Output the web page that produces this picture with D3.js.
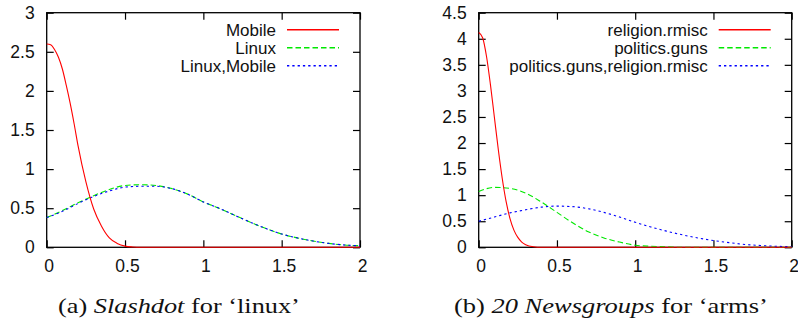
<!DOCTYPE html>
<html>
<head>
<meta charset="utf-8">
<script src="https://cdn.jsdelivr.net/npm/d3@7"></script>
<style>
  body { margin: 0; background: #fff; }
  svg { display: block; }
</style>
</head>
<body>
<div id="chart"></div>
<script>

// tick values
var xTicks = [0, 0.5, 1, 1.5, 2];
var yTicksA = [0, 0.5, 1, 1.5, 2, 2.5, 3];
var yTicksB = [0, 0.5, 1, 1.5, 2, 2.5, 3, 3.5, 4, 4.5];

// legend names
var seriesA = ["Mobile", "Linux", "Linux,Mobile"];
var seriesB = ["religion.rmisc", "politics.guns", "politics.guns,religion.rmisc"];

// (a) Slashdot
var mobileX = [0, 0.025, 0.05, 0.075, 0.1, 0.125, 0.15, 0.175, 0.2, 0.25, 0.3, 0.35, 0.4, 0.45, 0.5, 0.55, 0.6, 0.8, 1, 1.5, 2];
var mobileY = [2.60, 2.59, 2.53, 2.43, 2.28, 2.07, 1.84, 1.58, 1.30, 0.84, 0.49, 0.27, 0.12, 0.05, 0.015, 0.004, 0, 0, 0, 0, 0];
var linuxX = [0, 0.1, 0.2, 0.3, 0.4, 0.5, 0.6, 0.7, 0.8, 0.9, 1, 1.1, 1.2, 1.3, 1.4, 1.5, 1.6, 1.7, 1.8, 1.9, 2];
var linuxY = [0.38, 0.47, 0.57, 0.66, 0.74, 0.79, 0.80, 0.79, 0.75, 0.68, 0.58, 0.50, 0.41, 0.32, 0.24, 0.17, 0.12, 0.08, 0.05, 0.03, 0.02];
var linuxMobileY = [0.38, 0.46, 0.56, 0.65, 0.72, 0.77, 0.78, 0.78, 0.75, 0.68, 0.58, 0.50, 0.41, 0.32, 0.24, 0.17, 0.12, 0.08, 0.05, 0.03, 0.02];

// (b) 20 Newsgroups
var rmiscX = [0, 0.025, 0.05, 0.075, 0.1, 0.125, 0.15, 0.175, 0.2, 0.225, 0.25, 0.275, 0.3, 0.35, 0.4, 0.5, 1, 1.5, 2];
var rmiscY = [4.12, 4.02, 3.66, 3.12, 2.50, 1.88, 1.33, 0.88, 0.55, 0.33, 0.19, 0.10, 0.05, 0.01, 0, 0, 0, 0, 0];
var gunsX = [0, 0.1, 0.2, 0.3, 0.4, 0.5, 0.6, 0.7, 0.8, 0.9, 1, 1.1, 1.2, 1.3, 1.5, 2];
var gunsY = [1.07, 1.15, 1.13, 1.04, 0.87, 0.67, 0.47, 0.30, 0.18, 0.10, 0.04, 0.02, 0.01, 0, 0, 0];
var gunsRmiscX = [0, 0.1, 0.2, 0.3, 0.4, 0.5, 0.6, 0.7, 0.8, 0.9, 1, 1.1, 1.2, 1.3, 1.4, 1.5, 1.6, 1.7, 1.8, 1.9, 2];
var gunsRmiscY = [0.50, 0.58, 0.66, 0.72, 0.77, 0.79, 0.78, 0.74, 0.67, 0.58, 0.48, 0.39, 0.31, 0.24, 0.18, 0.13, 0.09, 0.055, 0.035, 0.02, 0.01];

// captions: [plain, italic, plain]
var captionA = ["(a) ", "Slashdot", " for \u2018linux\u2019"];
var captionB = ["(b) ", "20 Newsgroups", " for \u2018arms\u2019"];

var colors = ["#ff0000", "#00e800", "#0000ff"];
var dashes = [null, "5.5,3", "2.3,3"];

var svg = d3.select("#chart")
            .append("svg")
              .attr("width", 798)
              .attr("height", 323);

function zip(xs, ys){
  return xs.map(function(x, i){ return {x: x, y: ys[i]}; });
}

function drawPanel(p){

  var xScale = d3.scaleLinear()
                 .domain([0, 2])
                 .range([p.left, p.right]);
  var yScale = d3.scaleLinear()
                 .domain([0, p.yMax])
                 .range([p.bottom, p.top]);

  var g = svg.append("g");

  // ticks pointing inwards on all four sides
  g.append("g")
    .attr("transform", "translate(" + p.left + ",0)")
    .call(d3.axisLeft(yScale).tickValues(p.yTicks).tickSize(-7).tickSizeOuter(0).tickPadding(12)
            .tickFormat(function(d){ return d3.format("")(d); }));
  g.append("g")
    .attr("transform", "translate(" + p.right + ",0)")
    .call(d3.axisRight(yScale).tickValues(p.yTicks).tickSize(-7).tickSizeOuter(0).tickFormat(""));
  g.append("g")
    .attr("class", "xb")
    .attr("transform", "translate(0," + p.bottom + ")")
    .call(d3.axisBottom(xScale).tickValues(xTicks).tickSize(-7).tickSizeOuter(0).tickPadding(12)
            .tickFormat(function(d){ return d3.format("")(d); }));
  g.append("g")
    .attr("transform", "translate(0," + p.top + ")")
    .call(d3.axisTop(xScale).tickValues(xTicks).tickSize(-7).tickSizeOuter(0).tickFormat(""));

  g.selectAll(".domain").remove();
  g.selectAll(".tick line").attr("stroke", "#000").attr("stroke-width", 1.2);
  g.selectAll(".tick text")
    .attr("fill", "#111")
    .style("font-family", "'Liberation Sans', Arial, sans-serif")
    .style("font-size", "17.5px");
  g.selectAll(".xb .tick text").attr("x", 2);

  g.append("rect")
    .attr("x", p.left)
    .attr("y", p.top)
    .attr("width", p.right - p.left)
    .attr("height", p.bottom - p.top)
    .attr("fill", "none")
    .attr("stroke", "#000")
    .attr("stroke-width", 1.3);

  var line = d3.line()
               .x(function(d){ return xScale(d.x); })
               .y(function(d){ return yScale(d.y); })
               .curve(d3.curveMonotoneX);

  // draw back to front so red ends up on top
  var order = [1, 2, 0];
  order.forEach(function(i){
    g.append("path")
      .attr("d", line(p.data[i]))
      .style("fill", "none")
      .style("stroke", colors[i])
      .style("stroke-width", 1.1)
      .style("stroke-dasharray", dashes[i]);
  });

  // legend
  var rowY = [30, 48, 66];
  p.names.forEach(function(name, i){
    g.append("text")
      .attr("x", p.right - 84)
      .attr("y", rowY[i])
      .attr("dy", "0.35em")
      .attr("text-anchor", "end")
      .style("font-family", "'Liberation Sans', Arial, sans-serif")
      .style("font-size", "17px")
      .attr("fill", "#111")
      .text(name);
    g.append("path")
      .attr("d", "M" + (p.right - 73) + "," + (rowY[i] - 0.3) + "H" + (p.right - 21))
      .style("fill", "none")
      .style("stroke", colors[i])
      .style("stroke-width", 1.4)
      .style("stroke-dasharray", dashes[i]);
  });

  // caption, stretched to the width it has in the figure
  var cap = svg.append("text")
               .attr("y", 313)
               .style("font-family", "'Liberation Serif', 'Times New Roman', serif")
               .style("font-size", "21px")
               .attr("fill", "#111");
  p.caption.forEach(function(part, i){
    cap.append("tspan")
      .style("font-style", i == 1 ? "italic" : "normal")
      .text(part);
  });
  var w = cap.node().getComputedTextLength();
  cap.attr("transform", "translate(" + p.capLeft + ",0) scale(" + (p.capWidth / w) + ",1)");
}

drawPanel({
  left: 46.7, right: 360, top: 12.7, bottom: 247.3,
  yMax: 3, yTicks: yTicksA, names: seriesA,
  data: [zip(mobileX, mobileY), zip(linuxX, linuxY), zip(linuxX, linuxMobileY)],
  caption: captionA, capLeft: 58, capWidth: 242
});

drawPanel({
  left: 478.7, right: 791.7, top: 12.7, bottom: 247.3,
  yMax: 4.5, yTicks: yTicksB, names: seriesB,
  data: [zip(rmiscX, rmiscY), zip(gunsX, gunsY), zip(gunsRmiscX, gunsRmiscY)],
  caption: captionB, capLeft: 454, capWidth: 314
});

</script>
</body>
</html>
